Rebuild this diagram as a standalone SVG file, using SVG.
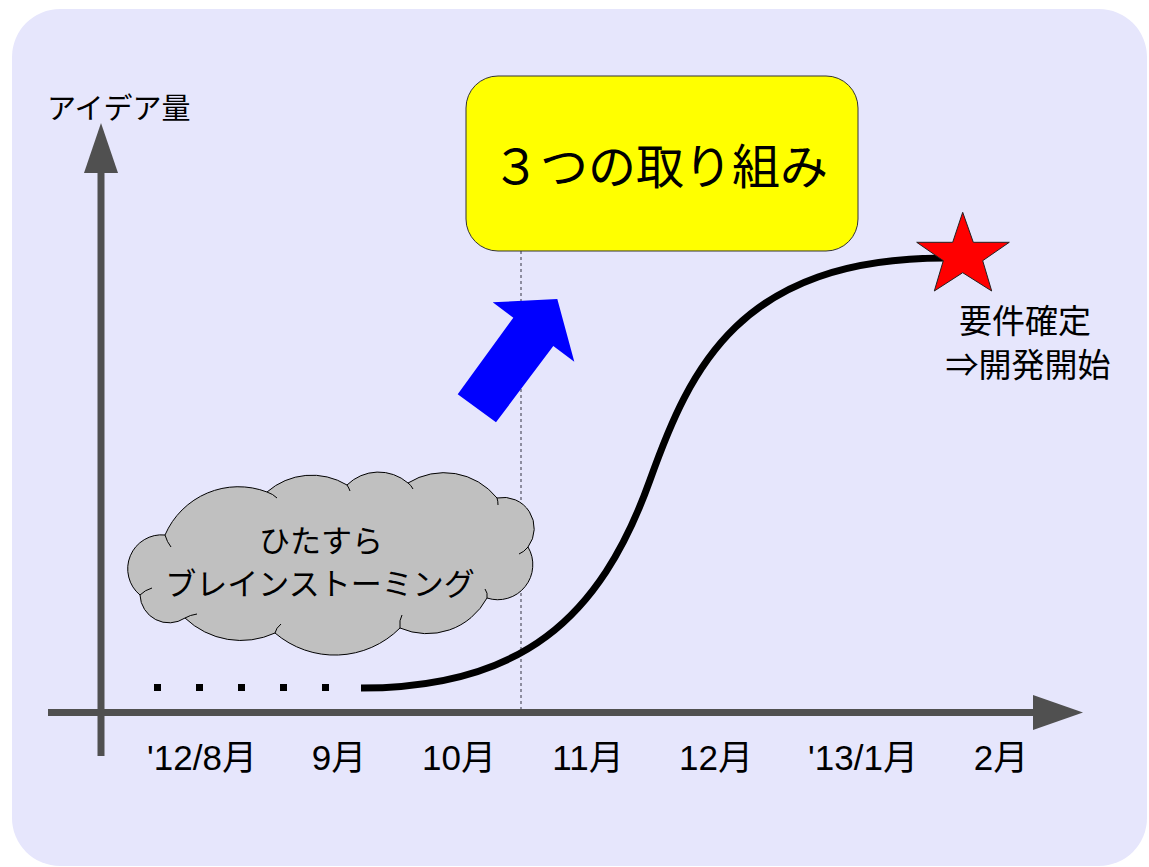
<svg xmlns="http://www.w3.org/2000/svg" width="1149" height="867" viewBox="0 0 1149 867">
<style>
.cjk{font-family:"Noto Sans CJK JP","Liberation Sans",sans-serif;fill:#000}
.mon{font-family:"Liberation Sans","Noto Sans CJK JP",sans-serif;font-size:35px;fill:#000;text-anchor:middle}
.axis{stroke:#505050;stroke-width:7;fill:none}
.head{fill:#505050}
</style>
<rect x="0" y="0" width="1149" height="867" fill="#ffffff"/>
<rect id="background" x="12" y="9" width="1135" height="857" rx="48" ry="48" fill="#e6e6fc"/>
<g id="connectors">
  <line x1="521" y1="251" x2="521" y2="712" stroke="#707080" stroke-width="1.5" stroke-dasharray="3,3"/>
  <line class="axis" x1="101" y1="170" x2="101" y2="756"/>
  <polygon class="head" points="101,123 84,173 118,173"/>
  <line class="axis" x1="48" y1="712.5" x2="1036" y2="712.5"/>
  <polygon class="head" points="1033,695 1083,712.5 1033,730"/>
  <path id="scurve" d="M361,688 C520,688 600,620 650,480 C690,368 740,258 945,258" fill="none" stroke="#000" stroke-width="7"/>
  <g fill="#000">
    <rect x="154" y="684" width="7" height="7"/>
    <rect x="196" y="684" width="7" height="7"/>
    <rect x="238" y="684" width="7" height="7"/>
    <rect x="280" y="684" width="7" height="7"/>
    <rect x="322" y="684" width="7" height="7"/>
  </g>
</g>
<g id="yaxis-label">
  <text class="cjk" x="47" y="119" font-size="29">アイデア量</text>
</g>
<g id="box">
  <rect x="466" y="76" width="392" height="175" rx="32" ry="32" fill="#ffff00" stroke="#333" stroke-width="1"/>
  <text class="cjk" x="660" y="184" font-size="48" text-anchor="middle">３つの取り組み</text>
</g>
<g id="blue-arrow">
  <polygon points="457.7,394.3 513.3,317.7 492.7,302.3 557.3,299 574.3,361.7 553.3,346 496,422.3" fill="#0000ff"/>
</g>
<g id="cloud">
  <path d="M165,535 A80,80 0 0 1 267,492 A68,68 0 0 1 347,485 A45,45 0 0 1 408,483 A68,68 0 0 1 497,498 A31,31 0 0 1 528,547 A35,35 0 0 1 487,598 A68,68 0 0 1 400,628 A92,92 0 0 1 275,633 A81,81 0 0 1 185,618 A29,29 0 0 1 140,595 A34,34 0 0 1 165,535 Z" fill="#c0c0c0" stroke="#000" stroke-width="1"/>
  <g fill="none" stroke="#000" stroke-width="1">
    <path d="M165,535 Q167,542 171,547"/>
    <path d="M267,492 Q273,494 277,498"/>
    <path d="M347,485 Q349,488 350,491"/>
    <path d="M408,483 Q411,485 413,489"/>
    <path d="M497,498 Q498,501 498,505"/>
    <path d="M528,547 Q524,552 519,554"/>
    <path d="M487,598 Q488,593 485,589"/>
    <path d="M400,628 Q399,620 402,615"/>
    <path d="M275,633 Q276,628 281,624"/>
    <path d="M185,618 Q190,615 197,614"/>
    <path d="M140,595 Q145,590 152,588"/>
  </g>
  <text class="cjk" x="321" y="552" font-size="31" text-anchor="middle">ひたすら</text>
  <text class="cjk" x="320" y="595" font-size="31" text-anchor="middle">ブレインストーミング</text>
</g>
<g id="star">
  <polygon points="962.7,212.3 973.3,242.3 1009.3,242.3 982.7,260.7 991.7,291 962.7,272.7 934.3,291 943.3,260.7 916.7,242.3 952.7,242.3" fill="#ff0000" stroke="#222" stroke-width="1"/>
  <text class="cjk" x="1025" y="333" font-size="33" text-anchor="middle">要件確定</text>
  <text class="cjk" x="1028" y="377" font-size="33" text-anchor="middle">⇒開発開始</text>
</g>
<g id="months">
  <text class="mon" x="202" y="770">'12/8月</text>
  <text class="mon" x="339" y="770">9月</text>
  <text class="mon" x="459" y="770">10月</text>
  <text class="mon" x="588" y="770">11月</text>
  <text class="mon" x="716" y="770">12月</text>
  <text class="mon" x="863" y="770">'13/1月</text>
  <text class="mon" x="1001" y="770">2月</text>
</g>
</svg>
